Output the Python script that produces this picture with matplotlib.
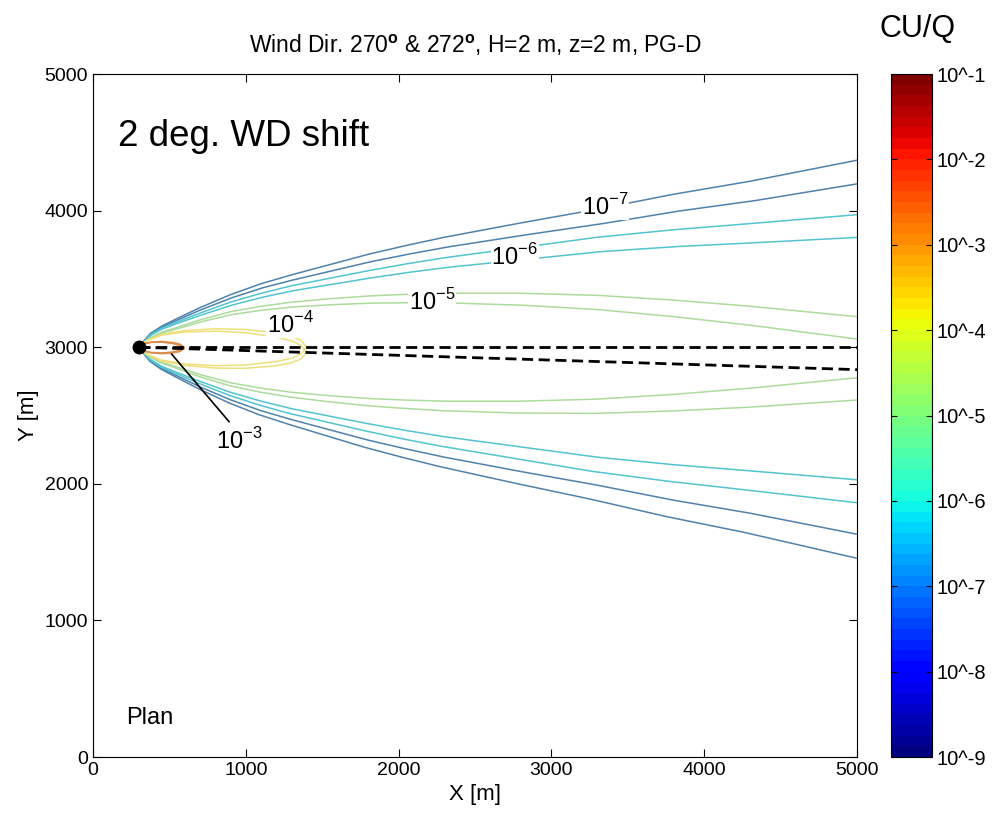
import numpy as np
import matplotlib
matplotlib.use("Agg")
import matplotlib.pyplot as plt
from matplotlib.colors import LogNorm
from matplotlib.cm import ScalarMappable

# source position (m) and the two wind directions (deg)
source_x = 300
source_y = 3000
wind_dirs = [270, 272]

# contour levels of CU/Q
levels = [1e-7, 1e-6, 1e-5, 1e-4, 1e-3]

# plume half-widths (m) against downwind distance (m)
dw_open = [0, 25, 75, 150, 250, 400, 600, 800, 1000, 1250, 1500, 1750,
           2000, 2500, 3000, 3500, 4000, 4750]
hw_1e7 = [0, 35, 100, 155, 210, 290, 385, 465, 530, 605, 680, 745,
          805, 910, 1010, 1120, 1215, 1380]
hw_1e6 = [0, 30, 90, 140, 185, 250, 330, 395, 450, 505, 560, 610,
          655, 730, 805, 860, 905, 975]
hw_1e5 = [0, 25, 70, 110, 145, 200, 260, 300, 330, 355, 375, 387,
          395, 395, 380, 345, 300, 218]
dw_1e4 = [0, 50, 150, 300, 500, 700, 900, 1000, 1060, 1100]
hw_1e4 = [0, 50, 95, 122, 135, 130, 105, 80, 50, 0]
dw_1e3 = [0, 30, 80, 150, 220, 270, 295]
hw_1e3 = [0, 25, 38, 42, 35, 22, 0]

# inline contour labels
label_text = [r"$10^{-7}$", r"$10^{-6}$", r"$10^{-5}$", r"$10^{-4}$", r"$10^{-3}$"]
label_x = [3350, 2760, 2220, 1290, 960]
label_y = [4030, 3664, 3333, 3164, 2315]

# the faded line colours as they appear in the picture
line_colors = ['#4f82ad', '#52c4cf', '#acdc9c', '#ede07a', '#d98c4c']

cbar_ticks = [1e-9, 1e-8, 1e-7, 1e-6, 1e-5, 1e-4, 1e-3, 1e-2, 1e-1]
cbar_labels = ["10^-9", "10^-8", "10^-7", "10^-6", "10^-5",
               "10^-4", "10^-3", "10^-2", "10^-1"]


def plume_path(dw, hw, wd):
    # one contour: tip -> upper edge -> source -> lower edge
    dw = np.asarray(dw, float)
    hw = np.asarray(hw, float)
    along = np.concatenate([dw[::-1], dw[1:]])
    cross = np.concatenate([hw[::-1], -hw[1:]])
    th = np.radians(270 - wd)
    x = source_x + along * np.cos(th) - cross * np.sin(th)
    y = source_y + along * np.sin(th) + cross * np.cos(th)
    return x, y


def main():
    plt.rcParams['font.family'] = ['Liberation Sans', 'DejaVu Sans']
    plt.rcParams['mathtext.fontset'] = 'custom'
    plt.rcParams['mathtext.rm'] = 'Liberation Sans'
    plt.rcParams['mathtext.bf'] = 'Liberation Sans:bold'

    fig = plt.figure(figsize=(9.95, 8.19), dpi=100)
    ax = fig.add_axes([0.0935, 0.0757, 0.7678, 0.8339])
    cax = fig.add_axes([0.8955, 0.0757, 0.0412, 0.8339])

    cmap = plt.get_cmap('jet', 64)
    norm = LogNorm(1e-9, 1e-1)

    shapes = [(dw_open, hw_1e7), (dw_open, hw_1e6), (dw_open, hw_1e5),
              (dw_1e4, hw_1e4), (dw_1e3, hw_1e3)]
    for col, (dw, hw) in zip(line_colors, shapes):
        for wd in wind_dirs:
            x, y = plume_path(dw, hw, wd)
            ax.plot(x, y, color=col, lw=1.1)

    # plume centre lines
    for wd in wind_dirs:
        th = np.radians(270 - wd)
        ax.plot([source_x, source_x + 4750 * np.cos(th)],
                [source_y, source_y + 4750 * np.sin(th)],
                color='k', lw=2, dashes=(4, 2))
    ax.plot(source_x, source_y, 'o', color='k', ms=9)

    for t, lx, ly in zip(label_text, label_x, label_y):
        ax.text(lx, ly, t, fontsize=17, ha='center', va='center',
                bbox=dict(facecolor='white', edgecolor='none', pad=0.5))
    ax.plot([515, 890], [2949, 2455], color='k', lw=1.2)

    ax.text(164, 4545, "2 deg. WD shift", fontsize=26.5, va='center')
    ax.text(216, 286, "Plan", fontsize=17, va='center')

    ax.set_xlim(0, 5000)
    ax.set_ylim(0, 5000)
    ax.set_xticks(range(0, 5001, 1000))
    ax.set_yticks(range(0, 5001, 1000))
    ax.tick_params(direction='in', top=True, right=True, length=6, labelsize=14)
    ax.set_xlabel("X [m]", fontsize=16, labelpad=4)
    ax.set_ylabel("Y [m]", fontsize=16, labelpad=4)
    ax.set_title(r"Wind Dir. 270$^{\mathbf{o}}$ & 272$^{\mathbf{o}}$, H=2 m, z=2 m, PG-D",
                 fontsize=16.5, pad=15)

    sm = ScalarMappable(norm=norm, cmap=cmap)
    cb = fig.colorbar(sm, cax=cax)
    cb.set_ticks(cbar_ticks)
    cb.set_ticklabels(cbar_labels)
    cb.ax.minorticks_off()
    cb.ax.tick_params(direction='in', left=True, right=True, length=4, labelsize=14.5)
    cb.outline.set_linewidth(0.8)
    fig.text(0.922, 0.965, "CU/Q", fontsize=22, ha='center', va='center')

    fig.savefig("out.png", dpi=100)


if __name__ == "__main__":
    main()
